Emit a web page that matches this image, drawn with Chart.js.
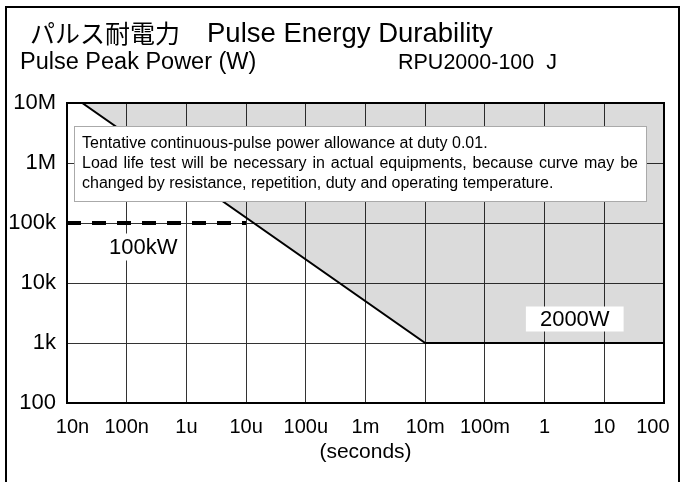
<!DOCTYPE html>
<html>
<head>
<meta charset="utf-8">
<script src="https://cdn.jsdelivr.net/npm/chart.js@4.4.0/dist/chart.umd.min.js"></script>
<style>
body{margin:0;background:#fff;}
#wrap{width:683px;height:482px;position:relative;}
</style>
</head>
<body>
<div id="wrap"><canvas id="myChart"></canvas></div>
<script>
// x axis: pulse width (seconds)
const xTicks = [1e-8, 1e-7, 1e-6, 1e-5, 1e-4, 1e-3, 1e-2, 1e-1, 1, 10, 100];
const xLabels = ['10n', '100n', '1u', '10u', '100u', '1m', '10m', '100m', '1', '10', '100'];
// y axis: pulse peak power (W)
const yTicks = [1e2, 1e3, 1e4, 1e5, 1e6, 1e7];
const yLabels = ['100', '1k', '10k', '100k', '1M', '10M'];
// allowance curve
const limitTime = [1.8e-8, 1e-2, 100];
const limitPower = [1e7, 1e3, 1e3];
// max peak power (dashed)
const peakTime = [1e-8, 1e-5];
const peakPower = [1e5, 1e5];

const noteLines = [
  'Tentative continuous-pulse power allowance at duty 0.01.',
  'Load life test will be necessary in actual equipments, because curve may be',
  'changed by resistance, repetition, duty and operating temperature.'
];

const FONT = '"Liberation Sans", Arial, sans-serif';
const ctx = document.getElementById('myChart');

// 両端揃えで1行描く
function drawJustified(c, text, x, y, width){
  const words = text.split(' ');
  let total = 0;
  words.forEach(w => total += c.measureText(w).width);
  const gap = (width - total) / (words.length - 1);
  let cx = x;
  words.forEach(w => {
    c.fillText(w, cx, y);
    cx += c.measureText(w).width + gap;
  });
}

function labelBox(c, text, cx, cy, font, padX, h){
  c.font = font;
  const w = c.measureText(text).width + padX * 2;
  c.fillStyle = '#fff';
  c.fillRect(cx - w / 2, cy - h / 2, w, h);
  c.fillStyle = '#000';
  c.textAlign = 'center';
  c.textBaseline = 'middle';
  c.fillText(text, cx, cy + 1);
}

const decor = {
  id: 'decor',
  afterDraw(chart){
    const c = chart.ctx;
    const a = chart.chartArea;
    const xs = chart.scales.x, ys = chart.scales.y;
    c.save();

    // plot frame
    c.strokeStyle = '#000';
    c.lineWidth = 2;
    c.strokeRect(a.left, a.top, a.right - a.left, a.bottom - a.top);

    // note box
    c.fillStyle = '#fff';
    c.fillRect(74, 126, 572, 75);
    c.strokeStyle = '#aaa';
    c.lineWidth = 1;
    c.strokeRect(74.5, 126.5, 572, 75);
    c.fillStyle = '#000';
    c.font = '16px ' + FONT;
    c.textAlign = 'left';
    c.textBaseline = 'middle';
    c.fillText(noteLines[0], 82, 144);
    drawJustified(c, noteLines[1], 82, 164, 556);
    c.fillText(noteLines[2], 82, 184);

    // labels
    labelBox(c, '100kW', xs.getPixelForValue(1.9e-7), ys.getPixelForValue(1e5) + 24, '22px ' + FONT, 6, 27);
    labelBox(c, '2000W', xs.getPixelForValue(3.2), ys.getPixelForValue(1e3) - 24, '22px ' + FONT, 14, 25);

    // titles
    c.fillStyle = '#000';
    c.textAlign = 'left';
    c.textBaseline = 'middle';
    c.font = '25px "Noto Sans CJK JP", sans-serif';
    c.fillText('パルス耐電力', 30, 33);
    c.font = '27.5px ' + FONT;
    c.fillText('Pulse Energy Durability', 207, 34);
    c.font = '23.5px ' + FONT;
    c.fillText('Pulse Peak Power (W)', 20, 63);
    c.font = '21.5px ' + FONT;
    c.fillText('RPU2000-100  J', 398, 63);
    c.textAlign = 'center';
    c.font = '21px ' + FONT;
    c.fillText('(seconds)', (a.left + a.right) / 2, 452);

    // outer frame
    c.strokeStyle = '#000';
    c.lineWidth = 2;
    c.beginPath();
    c.moveTo(6, 482);
    c.lineTo(6, 7);
    c.lineTo(679, 7);
    c.lineTo(679, 482);
    c.stroke();
    c.restore();
  }
};

new Chart(ctx, {
  type: 'line',
  data: {
    datasets: [{
      data: limitTime.map((t, i) => ({x: t, y: limitPower[i]})),
      borderColor: '#000',
      borderWidth: 2,
      // 半透明にしてグリッドを透かす
      backgroundColor: 'rgba(0, 0, 0, 0.14)',
      fill: 'end',
      pointRadius: 0,
      tension: 0
    }, {
      data: peakTime.map((t, i) => ({x: t, y: peakPower[i]})),
      borderColor: '#000',
      borderWidth: 4,
      borderDash: [14, 11],
      fill: false,
      pointRadius: 0
    }]
  },
  options: {
    responsive: true,
    maintainAspectRatio: false,
    animation: false,
    layout: {padding: {top: 103, right: 19, bottom: 0, left: 0}},
    plugins: {legend: {display: false}, tooltip: {enabled: false}},
    scales: {
      x: {
        type: 'logarithmic',
        min: 1e-8,
        max: 100,
        afterBuildTicks: (s) => { s.ticks = xTicks.map(v => ({value: v})); },
        afterFit: (s) => { s.height = 79; s.paddingLeft = 0; s.paddingRight = 0; },
        grid: {color: '#333', lineWidth: 1, drawTicks: false},
        border: {color: '#000', width: 2},
        ticks: {
          color: '#000',
          font: {family: FONT, size: 20},
          padding: 12,
          maxRotation: 0,
          autoSkip: false,
          // 両端のラベルは枠の内側へ寄せる
          callback: (v, i) => {
            if (i === 0) return '  ' + xLabels[i];
            if (i === xLabels.length - 1) return xLabels[i] + '    ';
            return xLabels[i];
          }
        }
      },
      y: {
        type: 'logarithmic',
        min: 100,
        max: 1e7,
        afterBuildTicks: (s) => { s.ticks = yTicks.map(v => ({value: v})); },
        afterFit: (s) => { s.width = 67; s.paddingTop = 0; s.paddingBottom = 0; },
        grid: {color: '#333', lineWidth: 1, drawTicks: false},
        border: {color: '#000', width: 2},
        ticks: {
          color: '#000',
          font: {family: FONT, size: 22},
          padding: 11,
          autoSkip: false,
          callback: (v, i) => yLabels[i]
        }
      }
    }
  },
  plugins: [decor]
});
</script>
</body>
</html>
